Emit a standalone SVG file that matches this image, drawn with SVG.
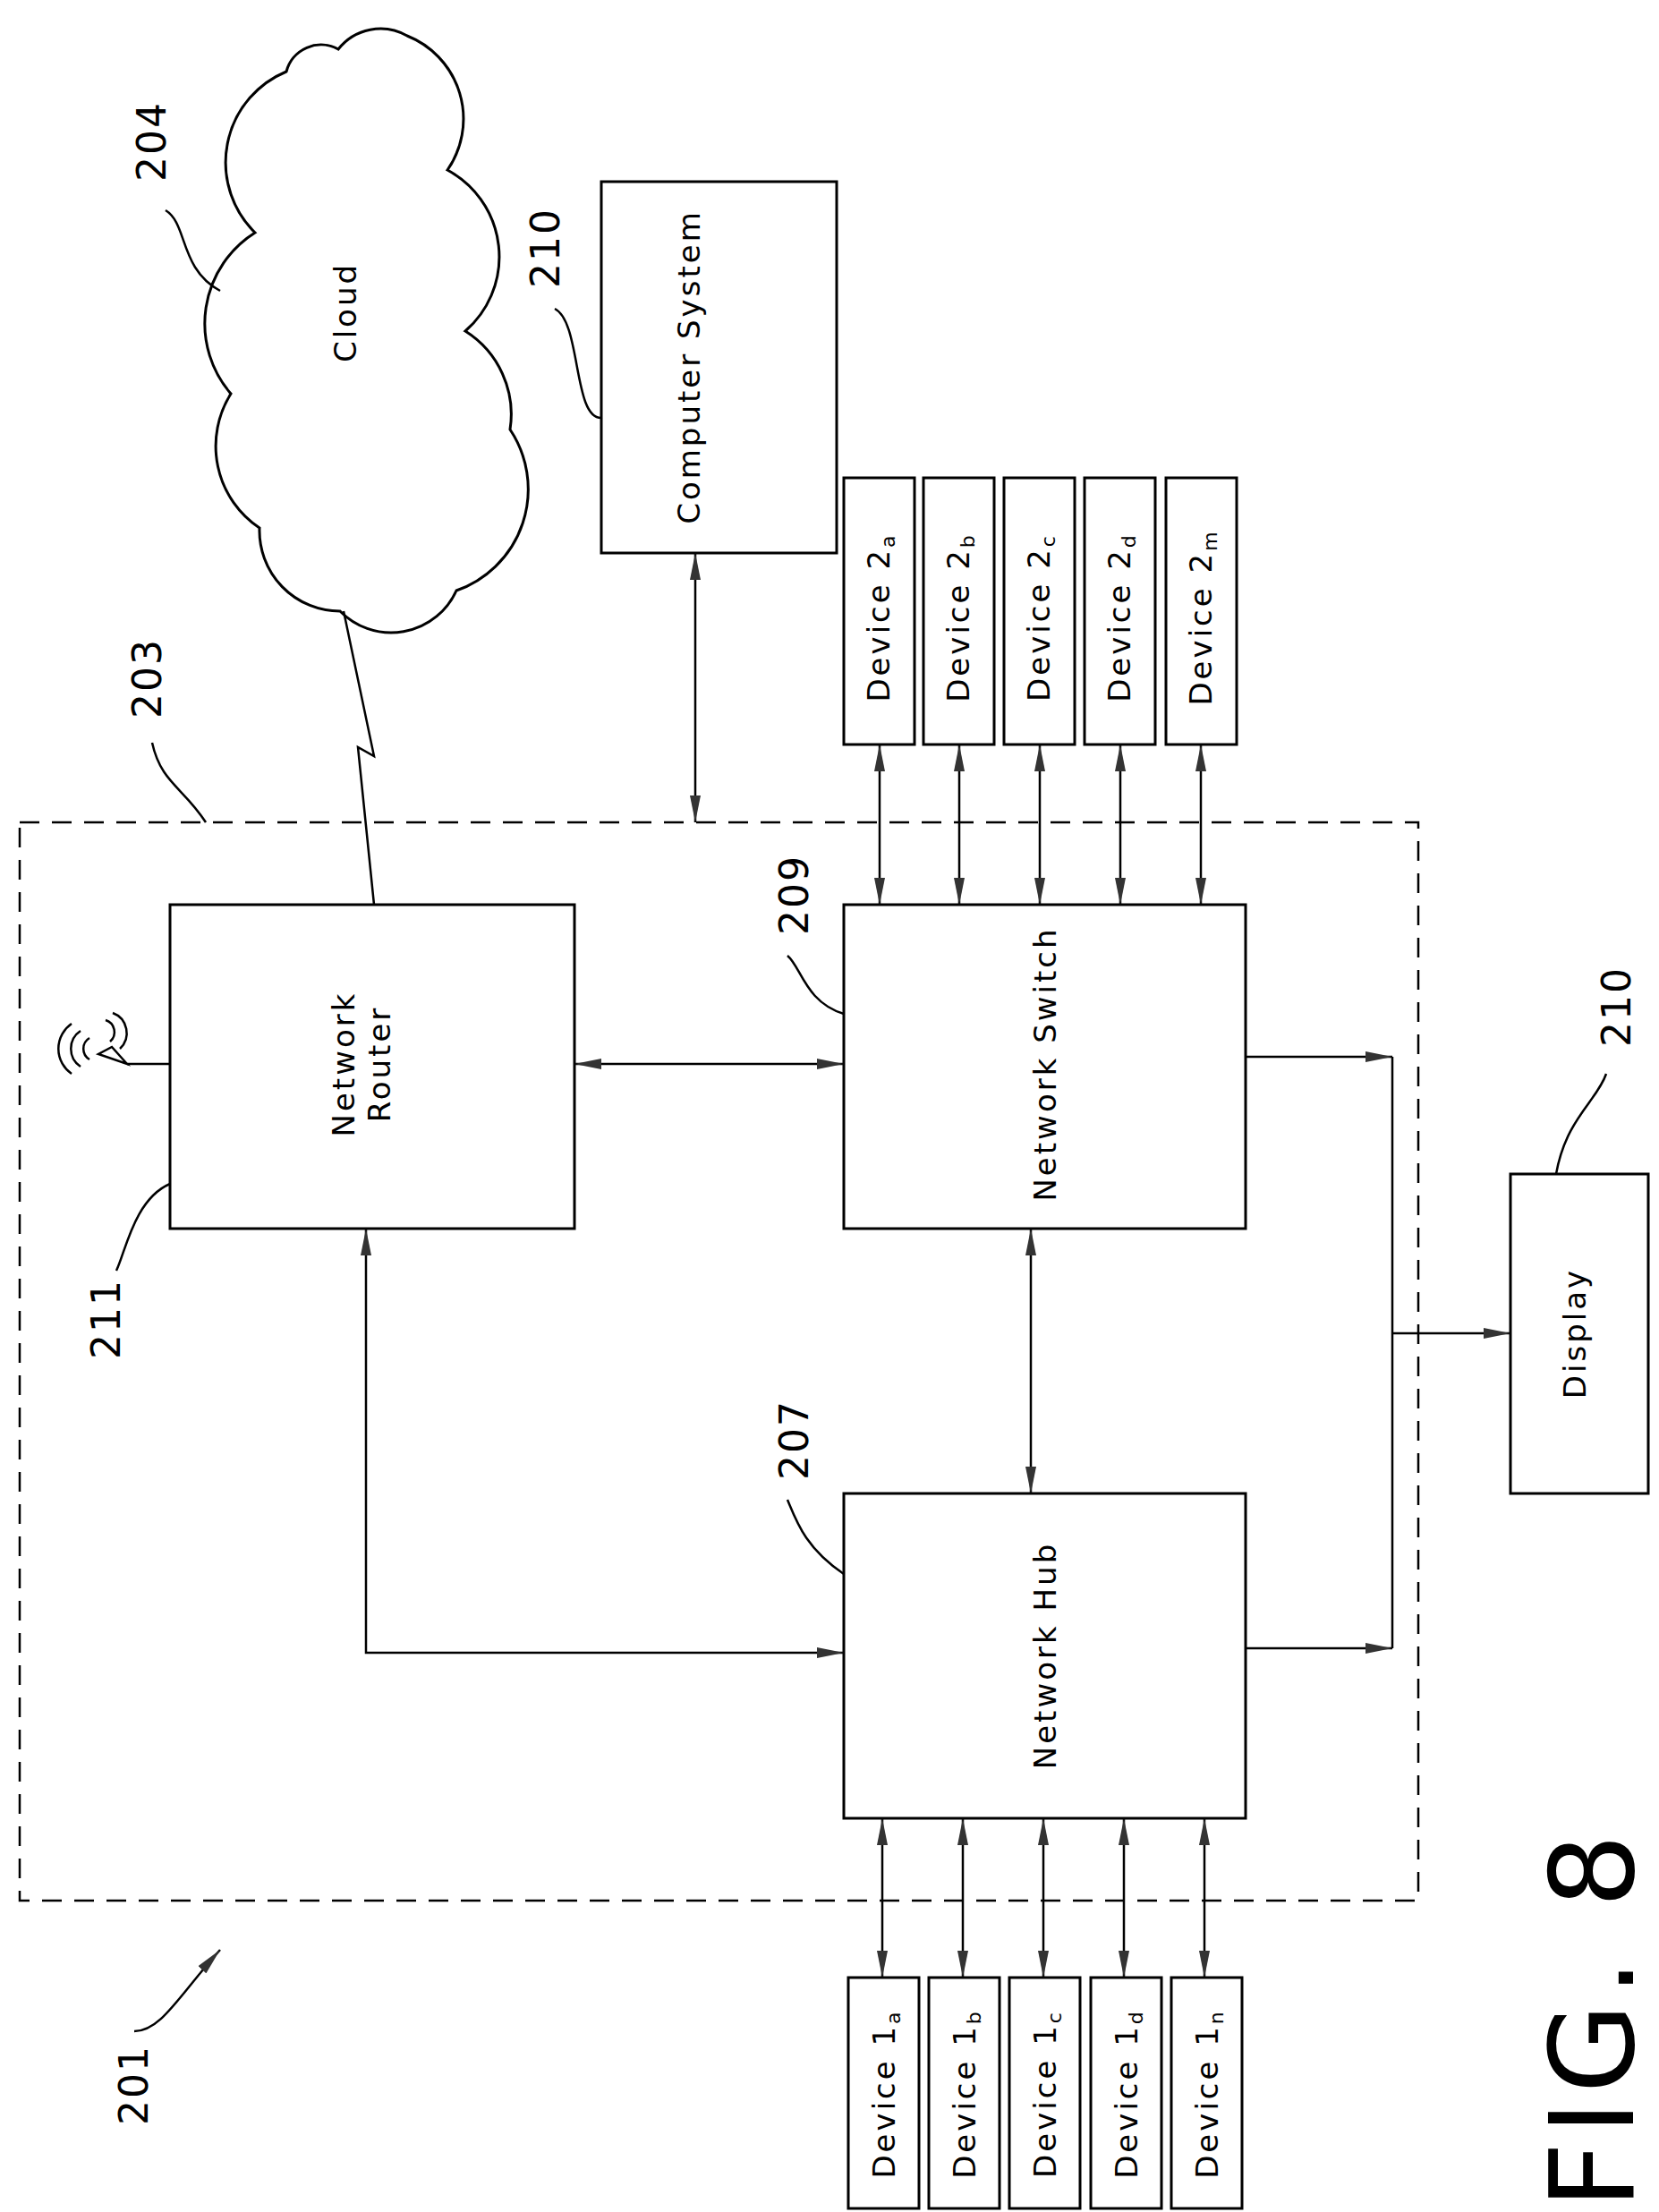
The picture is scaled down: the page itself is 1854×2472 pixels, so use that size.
<svg xmlns="http://www.w3.org/2000/svg" width="1854" height="2472" viewBox="0 0 1854 2472">
<style>
.b{fill:#fff;stroke:#000;stroke-width:3}
.l{fill:none;stroke:#000;stroke-width:2.5}
.t{font-family:"DejaVu Sans",sans-serif;font-size:34px;letter-spacing:3px;fill:#000;text-anchor:middle}
.n{font-family:"DejaVu Sans",sans-serif;font-size:44px;letter-spacing:2px;fill:#000;text-anchor:middle}
</style>
<defs>
<marker id="m" viewBox="0 0 10 10" refX="10" refY="5" markerWidth="30" markerHeight="12" preserveAspectRatio="none" orient="auto-start-reverse" markerUnits="userSpaceOnUse">
<path d="M0,0 L10,5 L0,10 Z" fill="#333"/>
</marker>
</defs>
<rect width="1854" height="2472" fill="#fff"/>
<rect id="b203" x="22" y="919" width="1563" height="1205" fill="none" stroke="#000" stroke-width="2.5" stroke-dasharray="22,14"/>
<g id="cloud">
<path class="b" d="M380,683 A90,90 0 0 1 290,590 A110,110 0 0 1 258,440 A120,120 0 0 1 285,260 A110,110 0 0 1 320,80 A40,40 0 0 1 378,55 A60,60 0 0 1 455,40 A100,100 0 0 1 500,190 A110,110 0 0 1 520,370 A110,110 0 0 1 570,480 A120,120 0 0 1 510,660 A80,80 0 0 1 380,683 Z"/>
<text class="t" transform="translate(398,349) rotate(-90)">Cloud</text>
</g>
<g id="cs"><rect class="b" x="672" y="203" width="263" height="415"/><text class="t" transform="translate(782,410) rotate(-90)">Computer System</text></g>
<g id="router"><rect class="b" x="190" y="1011" width="452" height="362"/><text class="t" transform="translate(396,1189) rotate(-90)">Network</text><text class="t" transform="translate(436,1189) rotate(-90)">Router</text></g>
<g id="switch"><rect class="b" x="943" y="1011" width="449" height="362"/><text class="t" transform="translate(1180,1189) rotate(-90)">Network Switch</text></g>
<g id="hub"><rect class="b" x="943" y="1669" width="449" height="363"/><text class="t" transform="translate(1180,1850) rotate(-90)">Network Hub</text></g>
<g id="display"><rect class="b" x="1688" y="1312" width="154" height="357"/><text class="t" transform="translate(1772,1490) rotate(-90)">Display</text></g>
<g id="dev2">
<rect class="b" x="943" y="534" width="79" height="298"/><text class="t" transform="translate(994,690) rotate(-90)">Device 2<tspan font-size="22" dy="6">a</tspan></text>
<rect class="b" x="1032" y="534" width="79" height="298"/><text class="t" transform="translate(1083,690) rotate(-90)">Device 2<tspan font-size="22" dy="6">b</tspan></text>
<rect class="b" x="1122" y="534" width="79" height="298"/><text class="t" transform="translate(1173,690) rotate(-90)">Device 2<tspan font-size="22" dy="6">c</tspan></text>
<rect class="b" x="1212" y="534" width="79" height="298"/><text class="t" transform="translate(1263,690) rotate(-90)">Device 2<tspan font-size="22" dy="6">d</tspan></text>
<rect class="b" x="1303" y="534" width="79" height="298"/><text class="t" transform="translate(1354,690) rotate(-90)">Device 2<tspan font-size="22" dy="6">m</tspan></text>
</g>
<g id="dev1">
<rect class="b" x="948" y="2210" width="79" height="258"/><text class="t" transform="translate(1000,2340) rotate(-90)">Device 1<tspan font-size="22" dy="6">a</tspan></text>
<rect class="b" x="1038" y="2210" width="79" height="258"/><text class="t" transform="translate(1090,2340) rotate(-90)">Device 1<tspan font-size="22" dy="6">b</tspan></text>
<rect class="b" x="1128" y="2210" width="79" height="258"/><text class="t" transform="translate(1180,2340) rotate(-90)">Device 1<tspan font-size="22" dy="6">c</tspan></text>
<rect class="b" x="1219" y="2210" width="79" height="258"/><text class="t" transform="translate(1271,2340) rotate(-90)">Device 1<tspan font-size="22" dy="6">d</tspan></text>
<rect class="b" x="1309" y="2210" width="79" height="258"/><text class="t" transform="translate(1361,2340) rotate(-90)">Device 1<tspan font-size="22" dy="6">n</tspan></text>
</g>
<g id="connectors" class="l">
<line x1="986" y1="2032" x2="986" y2="2210" marker-start="url(#m)" marker-end="url(#m)"/>
<line x1="1076" y1="2032" x2="1076" y2="2210" marker-start="url(#m)" marker-end="url(#m)"/>
<line x1="1166" y1="2032" x2="1166" y2="2210" marker-start="url(#m)" marker-end="url(#m)"/>
<line x1="1256" y1="2032" x2="1256" y2="2210" marker-start="url(#m)" marker-end="url(#m)"/>
<line x1="1346" y1="2032" x2="1346" y2="2210" marker-start="url(#m)" marker-end="url(#m)"/>
<line x1="983" y1="832" x2="983" y2="1011" marker-start="url(#m)" marker-end="url(#m)"/>
<line x1="1072" y1="832" x2="1072" y2="1011" marker-start="url(#m)" marker-end="url(#m)"/>
<line x1="1162" y1="832" x2="1162" y2="1011" marker-start="url(#m)" marker-end="url(#m)"/>
<line x1="1252" y1="832" x2="1252" y2="1011" marker-start="url(#m)" marker-end="url(#m)"/>
<line x1="1342" y1="832" x2="1342" y2="1011" marker-start="url(#m)" marker-end="url(#m)"/>
<line x1="777" y1="618" x2="777" y2="919" marker-start="url(#m)" marker-end="url(#m)"/>
<line x1="642" y1="1189" x2="943" y2="1189" marker-start="url(#m)" marker-end="url(#m)"/>
<polyline points="409,1373 409,1847 943,1847" marker-start="url(#m)" marker-end="url(#m)"/>
<line x1="1152" y1="1373" x2="1152" y2="1669" marker-start="url(#m)" marker-end="url(#m)"/>
<line x1="1392" y1="1181" x2="1556" y2="1181" marker-end="url(#m)"/>
<line x1="1392" y1="1842" x2="1556" y2="1842" marker-end="url(#m)"/>
<line x1="1556" y1="1181" x2="1556" y2="1842"/>
<line x1="1556" y1="1490" x2="1688" y2="1490" marker-end="url(#m)"/>
<polyline points="384,683 418,845 400,835 418,1011"/>
<line x1="142" y1="1189" x2="190" y2="1189"/>
<path d="M142,1189 L125,1170 L110,1178 Z"/>
<path d="M100,1160 a14,14 0 0 0 0,24 M90,1152 a24,24 0 0 0 0,40 M80,1144 a34,34 0 0 0 0,56 M118,1140 a14,14 0 0 1 5,24 M126,1132 a24,24 0 0 1 8,40"/>
<path d="M246,325 C200,300 210,250 185,235"/>
<path d="M673,467 C640,470 650,360 620,345"/>
<path d="M230,919 C205,880 180,875 170,830"/>
<path d="M943,1133 C900,1120 895,1080 880,1068"/>
<path d="M1739,1312 C1750,1250 1785,1230 1795,1200"/>
<path d="M190,1323 C150,1340 140,1400 130,1420"/>
<path d="M943,1759 C900,1730 890,1700 880,1676"/>
<path d="M246,2179 C200,2230 180,2270 150,2270" marker-start="url(#m)"/>
</g>
<g id="labels">
<text class="n" transform="translate(185,158) rotate(-90)">204</text>
<text class="n" transform="translate(625,277) rotate(-90)">210</text>
<text class="n" transform="translate(180,758) rotate(-90)">203</text>
<text class="n" transform="translate(903,1000) rotate(-90)">209</text>
<text class="n" transform="translate(1822,1125) rotate(-90)">210</text>
<text class="n" transform="translate(134,1474) rotate(-90)">211</text>
<text class="n" transform="translate(903,1609) rotate(-90)">207</text>
<text class="n" transform="translate(165,2330) rotate(-90)">201</text>
<text transform="translate(1825,2255) rotate(-90)" font-family="DejaVu Sans,sans-serif" font-size="130" letter-spacing="8" text-anchor="middle">FIG. 8</text>
</g>
</svg>
